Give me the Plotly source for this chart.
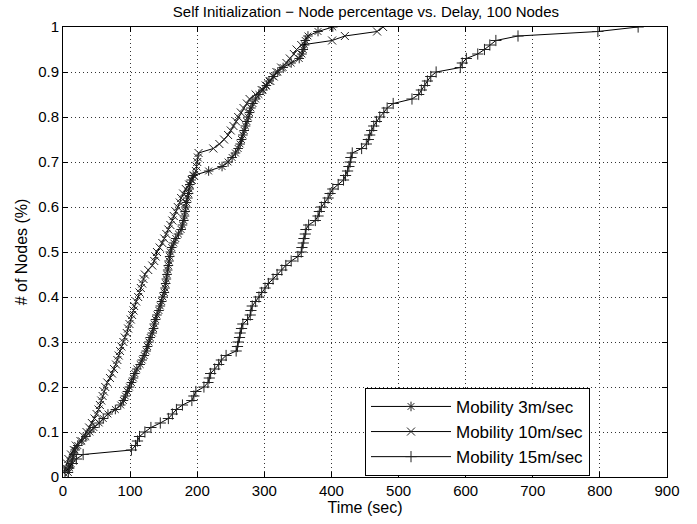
import plotly.graph_objects as go

node_fraction = [0.01, 0.02, 0.03, 0.04, 0.05, 0.06, 0.07, 0.08, 0.09, 0.10,
                 0.11, 0.12, 0.13, 0.14, 0.15, 0.16, 0.17, 0.18, 0.19, 0.20,
                 0.21, 0.22, 0.23, 0.24, 0.25, 0.26, 0.27, 0.28, 0.29, 0.30,
                 0.31, 0.32, 0.33, 0.34, 0.35, 0.36, 0.37, 0.38, 0.39, 0.40,
                 0.41, 0.42, 0.43, 0.44, 0.45, 0.46, 0.47, 0.48, 0.49, 0.50,
                 0.51, 0.52, 0.53, 0.54, 0.55, 0.56, 0.57, 0.58, 0.59, 0.60,
                 0.61, 0.62, 0.63, 0.64, 0.65, 0.66, 0.67, 0.68, 0.69, 0.70,
                 0.71, 0.72, 0.73, 0.74, 0.75, 0.76, 0.77, 0.78, 0.79, 0.80,
                 0.81, 0.82, 0.83, 0.84, 0.85, 0.86, 0.87, 0.88, 0.89, 0.90,
                 0.91, 0.92, 0.93, 0.94, 0.95, 0.96, 0.97, 0.98, 0.99, 1.00]

delay_3ms = [8, 10, 12, 14, 16, 18, 22, 28, 34, 40,
             46, 54, 60, 67, 78, 86, 90, 93, 96, 99,
             102, 105, 107, 110, 115, 118, 121, 124, 126, 128,
             130, 133, 135, 136, 138, 140, 143, 145, 147, 149,
             151, 152, 153, 154, 155, 156, 157, 158, 159, 160,
             162, 165, 168, 172, 176, 178, 180, 181, 182, 183,
             184, 186, 187, 188, 189, 191, 194, 217, 237, 246,
             252, 257, 261, 264, 266, 268, 270, 272, 274, 276,
             278, 280, 283, 287, 292, 298, 303, 307, 313, 320,
             328, 340, 352, 356, 358, 360, 361, 365, 380, 402]

delay_10ms = [1, 4, 6, 8, 12, 16, 19, 26, 31, 35,
              39, 43, 47, 50, 53, 55, 57, 59, 61, 63,
              66, 70, 73, 76, 79, 81, 83, 85, 87, 90,
              92, 95, 97, 99, 101, 103, 105, 106, 109, 112,
              114, 116, 118, 120, 122, 127, 133, 136, 138, 140,
              144, 148, 151, 154, 157, 160, 163, 165, 168, 171,
              174, 176, 179, 183, 188, 192, 195, 198, 199, 200,
              201, 202, 224, 233, 240, 246, 250, 254, 258, 261,
              265, 269, 274, 278, 287, 296, 302, 309, 314, 318,
              325, 333, 338, 344, 348, 355, 401, 420, 468, 477]

delay_15ms = [3, 8, 14, 20, 30, 102, 108, 111, 114, 122,
              131, 145, 157, 163, 169, 178, 192, 195, 198, 210,
              216, 218, 220, 226, 232, 236, 243, 258, 260, 261,
              263, 264, 266, 268, 275, 279, 280, 282, 287, 292,
              296, 301, 306, 313, 319, 326, 332, 340, 350, 355,
              356, 358, 359, 361, 362, 366, 376, 380, 382, 385,
              390, 395, 398, 402, 410, 418, 421, 424, 426, 428,
              429, 431, 445, 452, 455, 457, 460, 463, 467, 472,
              478, 483, 492, 520, 530, 534, 539, 543, 548, 556,
              592, 595, 601, 618, 628, 636, 645, 678, 797, 857]

series_names = ["Mobility 3m/sec", "Mobility 10m/sec", "Mobility 15m/sec"]
x_ticks = [0, 100, 200, 300, 400, 500, 600, 700, 800, 900]
y_ticks = [0, 0.1, 0.2, 0.3, 0.4, 0.5, 0.6, 0.7, 0.8, 0.9, 1]
y_ticklabels = ["0", "0.1", "0.2", "0.3", "0.4", "0.5", "0.6", "0.7", "0.8", "0.9", "1"]

FONT = "Liberation Sans, Arial, Helvetica, sans-serif"

fig = go.Figure()
symbols = ["asterisk-open", "x-thin-open", "cross-thin-open"]
for name, xs, sym in zip(series_names, [delay_3ms, delay_10ms, delay_15ms], symbols):
    fig.add_trace(go.Scatter(
        x=xs, y=node_fraction, mode="lines+markers", name=name,
        line=dict(color="black", width=1),
        marker=dict(symbol=sym, size=8, color="#222",
                    line=dict(color="#222", width=1)),
    ))

axis_common = dict(
    showline=True, linecolor="black", linewidth=1, mirror="ticks",
    ticks="inside", ticklen=5, tickcolor="black",
    showgrid=True, gridcolor="#333", griddash="1px,3px", gridwidth=1,
    zeroline=False, automargin=False,
    tickfont=dict(family=FONT, size=15, color="black"),
)

fig.update_layout(
    width=697, height=524,
    margin=dict(l=63, r=30, t=27, b=47),
    paper_bgcolor="white", plot_bgcolor="white",
    title=dict(text="Self Initialization − Node percentage vs. Delay, 100 Nodes",
               x=0.525, xanchor="center", xref="container",
               y=1 - 12 / 524, yanchor="middle", yref="container",
               font=dict(family=FONT, size=15, color="black")),
    xaxis=dict(range=[0, 900], tickvals=x_ticks,
               title=dict(text="Time (sec)", font=dict(family=FONT, size=16, color="black"),
                          standoff=2),
               **axis_common),
    yaxis=dict(range=[0, 1], tickvals=y_ticks, ticktext=y_ticklabels,
               title=dict(text="# of Nodes (%)", font=dict(family=FONT, size=16, color="black"),
                          standoff=6),
               **axis_common),
    legend=dict(x=0.5, y=0.198, xanchor="left", yanchor="top",
                bgcolor="white", bordercolor="black", borderwidth=1,
                font=dict(family=FONT, size=17, color="black"),
                itemwidth=80, tracegroupgap=0),
    showlegend=True,
)

fig.write_html("out.html",
               config={"displayModeBar": False},
               post_script="document.body.style.margin='0';document.body.style.padding='0';")
